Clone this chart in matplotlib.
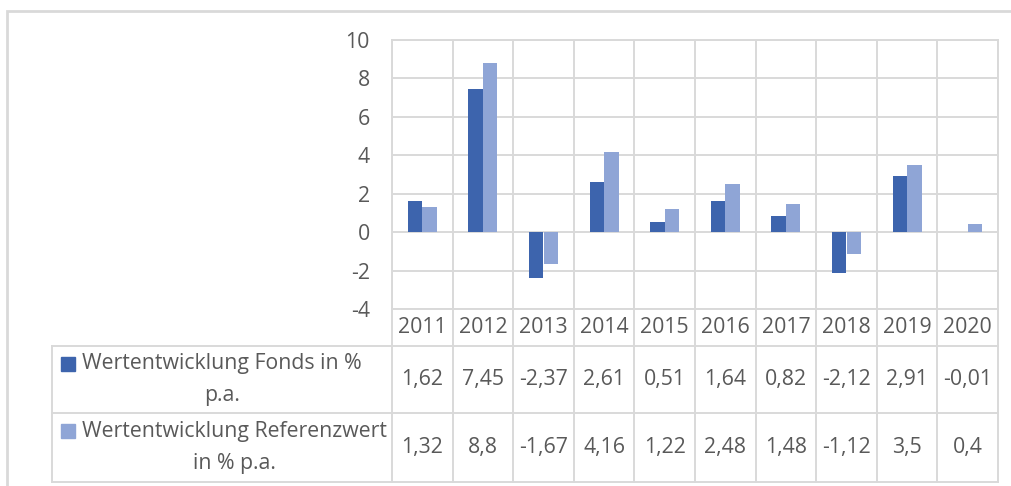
import numpy as np
import matplotlib.pyplot as plt
from matplotlib.patches import Rectangle

plt.rcParams['font.family'] = ['Open Sans', 'DejaVu Sans']
plt.rcParams['axes.unicode_minus'] = False

# data
years = ['2011', '2012', '2013', '2014', '2015', '2016', '2017', '2018', '2019', '2020']
fonds = [1.62, 7.45, -2.37, 2.61, 0.51, 1.64, 0.82, -2.12, 2.91, -0.01]
referenz = [1.32, 8.8, -1.67, 4.16, 1.22, 2.48, 1.48, -1.12, 3.5, 0.4]
series_names = ['Wertentwicklung Fonds in %\np.a.',
                'Wertentwicklung Referenzwert\nin % p.a.']
yticks = [-4, -2, 0, 2, 4, 6, 8, 10]

c_fonds = '#3D64AD'
c_ref = '#8FA5D6'
grid = '#D9D9D9'
txt = '#595959'
fs = 15.3

W, H = 1012, 486
def fx(px):
    return px / W
def fy(py):
    return 1 - py / H

fig = plt.figure(figsize=(W / 100, H / 100), dpi=100)

# outer chart border (cut off at right/bottom like the screenshot)
fig.patches.append(Rectangle((fx(7), fy(530)), fx(1100) - fx(7), fy(11) - fy(530),
                             transform=fig.transFigure, fill=False, ec=grid, lw=2))

# plot area
ax = fig.add_axes([fx(392), fy(309), fx(998) - fx(392), fy(40) - fy(309)])
x = np.arange(len(years))
w = 0.24
ax.bar(x - w / 2, fonds, w, color=c_fonds, zorder=3)
ax.bar(x + w / 2, referenz, w, color=c_ref, zorder=3)
ax.set_xlim(-0.5, 9.5)
ax.set_ylim(-4, 10)
ax.set_yticks(yticks)
ax.set_xticks(np.arange(-0.5, 10, 1))
ax.set_xticklabels([])
ax.grid(True, color=grid, lw=1.4)
ax.set_axisbelow(True)
ax.tick_params(length=0)
ax.tick_params(axis='y', pad=16, labelcolor=txt, labelsize=fs)
for s in ax.spines.values():
    s.set_color(grid)
    s.set_linewidth(1.4)

# data table below
col_w = (998 - 392) / 10
xmin = -0.5 - (392 - 52) / col_w
rows = [0, 37, 104, 173]
tab = fig.add_axes([fx(52), fy(482), fx(998) - fx(52), fy(309) - fy(482)])
tab.set_xlim(xmin, 9.5)
tab.set_ylim(rows[-1], 0)
tab.axis('off')

for r in rows[1:]:
    tab.plot([xmin, 9.5], [r, r], color=grid, lw=1.4, clip_on=False)
for k in range(len(years) + 1):
    tab.plot([k - 0.5, k - 0.5], [rows[0], rows[-1]], color=grid, lw=1.4, clip_on=False)
tab.plot([xmin, xmin], [rows[1], rows[-1]], color=grid, lw=1.4, clip_on=False)

for i, yr in enumerate(years):
    tab.text(i, (rows[0] + rows[1]) / 2, yr, ha='center', va='center', color=txt, fontsize=fs)

for j, (vals, name, col) in enumerate(zip([fonds, referenz], series_names, [c_fonds, c_ref])):
    yc = (rows[j + 1] + rows[j + 2]) / 2
    for i, v in enumerate(vals):
        tab.text(i, yc, str(v).replace('.', ','), ha='center', va='center',
                 color=txt, fontsize=fs)
    tab.plot([xmin + 16 / col_w], [rows[j + 1] + 18], marker='s', ms=10,
             color=col, clip_on=False)
    tab.text(xmin + 30 / col_w, yc, name, ha='left', va='center',
             multialignment='center', color=txt, fontsize=fs, linespacing=1.65)

fig.savefig('out.png', dpi=100)
